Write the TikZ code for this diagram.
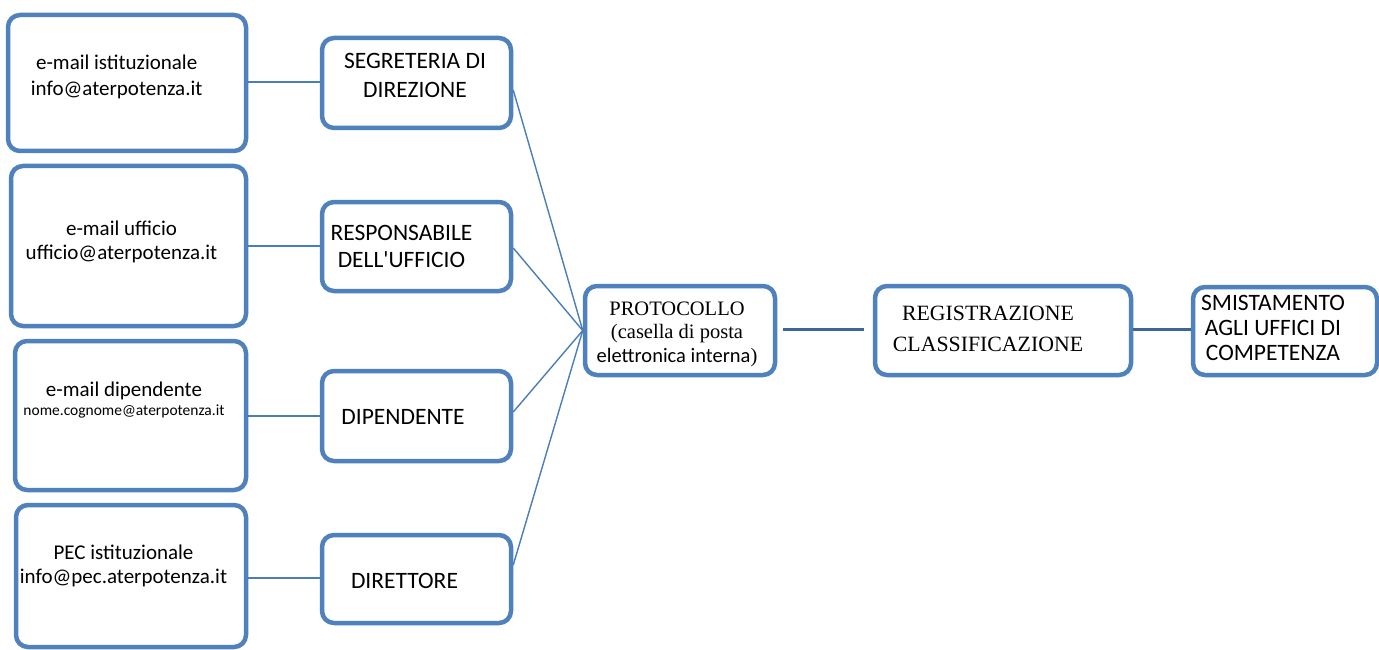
\documentclass[tikz,border=0pt]{standalone}
\usepackage{fontspec}
\setmainfont{Carlito}
\newfontfamily\tms{Liberation Serif}
\definecolor{bx}{HTML}{4F81BD}
\definecolor{ln}{HTML}{4A7EBB}
\definecolor{dk}{HTML}{3F6597}
\newcommand\stk[2]{\vtop{\baselineskip=#1\lineskiplimit=-30pt\lineskip=0pt\halign{\hfil##\hfil\cr#2\crcr}}}
\newcommand\sq{\XeTeXglyph\XeTeXcharglyph"27\relax}
\begin{document}
\begin{tikzpicture}[x=1pt,y=-1pt,
  box/.style={draw=bx,line width=4.5pt,rounded corners=12pt,inner sep=0pt,fill=white},
  thinline/.style={draw=ln,line width=1.4pt},
  thickline/.style={draw=dk,line width=3pt},
  txt/.style={anchor=base,inner sep=0pt,text=black},
  lefttxt/.style={txt,font=\fontsize{21}{26}\selectfont},
  midtxt/.style={txt,font=\fontsize{23.5}{29}\selectfont}]
\useasboundingbox (0,0) rectangle (1379,650);
\fill[white] (0,0) rectangle (1379,650);
% boxes
\node[box,minimum width=238pt,minimum height=136pt] (b1) at (127,83) {};
\node[box,minimum width=235pt,minimum height=160pt] (b2) at (128.5,246) {};
\node[box,minimum width=231pt,minimum height=149pt] (b3) at (130.5,415.5) {};
\node[box,minimum width=230pt,minimum height=142pt] (b4) at (131,576) {};
\node[box,minimum width=189pt,minimum height=90pt] (s1) at (416.5,83) {};
\node[box,minimum width=189pt,minimum height=89pt] (s2) at (416.5,246.5) {};
\node[box,minimum width=189pt,minimum height=90pt] (s3) at (416.5,416) {};
\node[box,minimum width=189pt,minimum height=88pt] (s4) at (416.5,579) {};
\node[box,minimum width=190pt,minimum height=89pt] (p) at (680,330.5) {};
\node[box,minimum width=256pt,minimum height=89pt] (r) at (1003,330.5) {};
\node[box,minimum width=184pt,minimum height=88pt] (m) at (1285,331) {};
% texts
\node[lefttxt] (t1) at (116.7,70) {\stk{26pt}{e-mail istituzionale\cr info@aterpotenza.it}};
\node[lefttxt] (t2) at (121.5,235) {\stk{24pt}{e-mail ufficio\cr ufficio@aterpotenza.it}};
\node[lefttxt] (t3) at (124,396) {\stk{19pt}{e-mail dipendente\cr {\fontsize{15.5}{19}\selectfont nome.cognome@aterpotenza.it}}};
\node[lefttxt] (t4) at (123.5,559) {\stk{24pt}{PEC istituzionale\cr info@pec.aterpotenza.it}};
\node[midtxt] (u1) at (415,69) {\stk{29pt}{SEGRETERIA DI\cr DIREZIONE}};
\node[midtxt] (u2) at (401.5,240) {\stk{28pt}{RESPONSABILE\cr DELL\sq UFFICIO}};
\node[midtxt] (u3) at (403,424) {DIPENDENTE};
\node[midtxt] (u4) at (404.5,588) {DIRETTORE};
\node[txt,font=\fontsize{20.5}{24}\selectfont] (pt) at (677,315) {\stk{23.5pt}{{\tms PROTOCOLLO}\cr {\tms (casella di posta}\cr elettronica interna{\tms )}}};
\node[txt,font=\tms\fontsize{21.8}{31}\selectfont] (rt) at (988,320) {\stk{31pt}{REGISTRAZIONE\cr CLASSIFICAZIONE}};
\node[midtxt] (mt) at (1273,310) {\stk{25pt}{SMISTAMENTO\cr AGLI UFFICI DI\cr COMPETENZA}};
% helper coordinates
\coordinate (y1) at (0,82);
\coordinate (y2) at (0,246);
\coordinate (y3) at (0,416);
\coordinate (y4) at (0,578);
\coordinate (f1) at (0,90);
\coordinate (f2) at (0,248);
\coordinate (f3) at (0,412);
\coordinate (f4) at (0,565);
\coordinate (yc) at (0,329);
% connectors
\draw[thinline] (b1.east |- y1) -- (s1.west |- y1);
\draw[thinline] (b2.east |- y2) -- (s2.west |- y2);
\draw[thinline] (b3.east |- y3) -- (s3.west |- y3);
\draw[thinline] (b4.east |- y4) -- (s4.west |- y4);
\draw[thinline] (s1.east |- f1) -- (p.west);
\draw[thinline] (s2.east |- f2) -- (p.west);
\draw[thinline] (s3.east |- f3) -- (p.west);
\draw[thinline] (s4.east |- f4) -- (p.west);
\draw[thickline,shorten <=6pt,shorten >=9pt] (p.east |- yc) -- (r.west |- yc);
\draw[thickline] (r.east |- yc) -- (m.west |- yc);
\end{tikzpicture}
\end{document}
